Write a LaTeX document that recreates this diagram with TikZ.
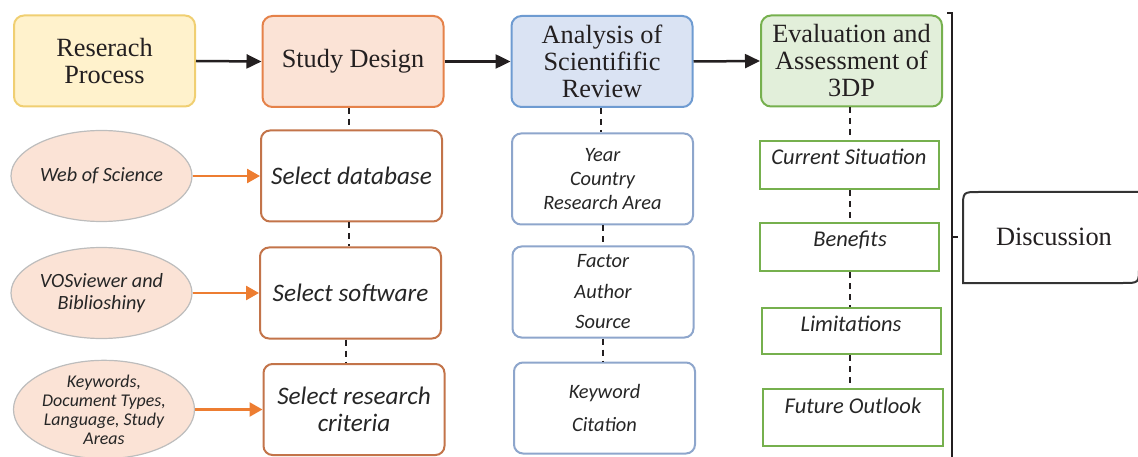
\documentclass[tikz,border=0pt]{standalone}
\usepackage{fontspec}
\setmainfont{Liberation Serif}
\newfontfamily\carl{Carlito}
\usetikzlibrary{arrows.meta,shapes.geometric}
\definecolor{ink}{HTML}{231F20}
\definecolor{yfill}{HTML}{FFF2CC}
\definecolor{ydraw}{HTML}{F0CF72}
\definecolor{ofill}{HTML}{FBE3D6}
\definecolor{odraw}{HTML}{E5824A}
\definecolor{bfill}{HTML}{DAE3F3}
\definecolor{bdraw}{HTML}{6E9BD1}
\definecolor{gfill}{HTML}{E2EFDA}
\definecolor{gdraw}{HTML}{76B04E}
\definecolor{seldraw}{HTML}{C3744A}
\definecolor{anadraw}{HTML}{8EA6CC}
\definecolor{elldraw}{HTML}{BDBDBD}
\definecolor{arrorange}{HTML}{ED7D31}
\definecolor{txtgray}{HTML}{262626}
\tikzset{
  mainbox/.style={draw, line width=2pt, rounded corners=10pt, minimum width=181pt, minimum height=91pt, inner sep=0pt, align=center, text=ink, font=\fontsize{26.3}{27}\selectfont},
  selbox/.style={draw=seldraw, line width=2pt, rounded corners=9pt, fill=white, minimum width=181pt, minimum height=91pt, inner sep=0pt, align=center, text=txtgray, font=\carl\itshape\fontsize{25.2}{27}\selectfont},
  anabox/.style={draw=anadraw, line width=2pt, rounded corners=9pt, fill=white, minimum width=181pt, minimum height=91pt, inner sep=0pt, align=center, text=txtgray},
  ellbox/.style={ellipse, draw=elldraw, line width=1.2pt, fill=ofill, minimum width=181pt, minimum height=91pt, inner sep=0pt, align=center, text=txtgray},
  grbox/.style={draw=gdraw, line width=2.5pt, fill=white, inner sep=0pt},
  grtext/.style={inner sep=0pt, text=txtgray, font=\carl\itshape\fontsize{22.5}{24}\selectfont},
  blackarr/.style={draw=ink, line width=2.5pt, -{Triangle[length=15pt,width=14pt]}},
  orarr/.style={draw=arrorange, line width=2.5pt, -{Triangle[length=13pt,width=14pt]}},
  dashline/.style={draw=ink, line width=1.6pt, dash pattern=on 6pt off 5pt},
}
\begin{document}
\begin{tikzpicture}[x=1pt,y=-1pt]
\useasboundingbox (0,0) rectangle (1138,457);
% top row
\node[mainbox, fill=yfill, draw=ydraw] (rp) at (104.5,61) {Reserach\\Process};
\node[mainbox, fill=ofill, draw=odraw] (sd) at (353,61.5) {Study Design};
\node[mainbox, fill=bfill, draw=bdraw] (an) at (602,61.5) {Analysis of\\Scientifific\\Review};
\node[mainbox, fill=gfill, draw=gdraw] (ev) at (851.5,61) {Evaluation and\\Assessment of\\3DP};
\draw[blackarr] (rp.east) -- (sd.west);
\draw[blackarr] (sd.east) -- (an.west);
\draw[blackarr] (an.east) -- (ev.west);
% ellipses
\node[ellbox, font=\carl\itshape\fontsize{20.2}{22}\selectfont] (wos) at (101.5,176) {Web of Science};
\node[ellbox, font=\carl\itshape\fontsize{20.2}{22}\selectfont] (vos) at (101.5,293) {VOSviewer and\\Biblioshiny};
\node[ellbox, font=\carl\itshape\fontsize{17.9}{19}\selectfont] (kw) at (104,409.5) {Keywords,\\Document Types,\\Language, Study\\Areas};
% select boxes
\node[selbox] (db) at (351.5,176) {Select database};
\node[selbox] (sw) at (350.5,293) {Select software};
\node[selbox] (cr) at (354,409.5) {Select research\\criteria};
\draw[orarr] (wos.east) -- (db.west);
\draw[orarr] (vos.east) -- (sw.west);
\draw[orarr] (kw.east) -- (cr.west);
\draw[dashline] (sd.south -| 349,0) -- (db.north -| 349,0);
\draw[dashline] (db.south -| 349,0) -- (sw.north -| 349,0);
\draw[dashline] (sw.south -| 346,0) -- (cr.north -| 346,0);
% analysis column
\node[anabox, font=\carl\itshape\fontsize{20.4}{24}\selectfont] (a1) at (602.5,179) {Year\\Country\\Research Area};
\node[anabox, font=\carl\itshape\fontsize{20.4}{30.5}\selectfont] (a2) at (603,292) {Factor\\Author\\Source};
\node[anabox, font=\carl\itshape\fontsize{20.4}{33}\selectfont] (a3) at (604.5,408) {Keyword\\Citation};
\draw[dashline] (an.south -| 601,0) -- (a1.north -| 601,0);
\draw[dashline] (a1.south -| 603,0) -- (a2.north -| 603,0);
\draw[dashline] (a2.south -| 603,0) -- (a3.north -| 603,0);
% evaluation column
\node[grbox, minimum width=179pt, minimum height=48pt] (g1) at (849.5,165) {};
\node[grbox, minimum width=179pt, minimum height=48pt] (g2) at (849.5,247) {};
\node[grbox, minimum width=179pt, minimum height=46pt] (g3) at (851.5,331) {};
\node[grbox, minimum width=180pt, minimum height=57pt] (g4) at (853,417.5) {};
\node[grtext] (t1) at (849,157) {Current Situation};
\node[grtext] (t2) at (850,240) {Benefits};
\node[grtext] (t3) at (851,324) {Limitations};
\node[grtext] (t4) at (853,406) {Future Outlook};
\draw[dashline] (ev.south -| 850,0) -- (g1.north -| 850,0);
\draw[dashline] (g1.south -| 850,0) -- (g2.north -| 850,0);
\draw[dashline] (g2.south -| 850,0) -- (g3.north -| 850,0);
\draw[dashline] (g3.south -| 850,0) -- (g4.north -| 850,0);
% bracket and discussion
\coordinate (bt) at (952,13);
\coordinate (bb) at (952,460);
\coordinate (bm) at (952,237);
\draw[ink, line width=2pt] (947,13) -- (bt) -- (bb);
\draw[ink, line width=2pt] (bm) -- ++(6,0);
\draw[draw=black!80, line width=2pt] (1150,192) -- (979,192) .. controls (963,192) .. (963,208) -- (963,283) -- (1123,283) .. controls (1139,283) .. (1139,267) -- (1139,240);
\node[text=ink, font=\fontsize{26.4}{27}\selectfont] (disc) at (1054,237) {Discussion};
\end{tikzpicture}
\end{document}
